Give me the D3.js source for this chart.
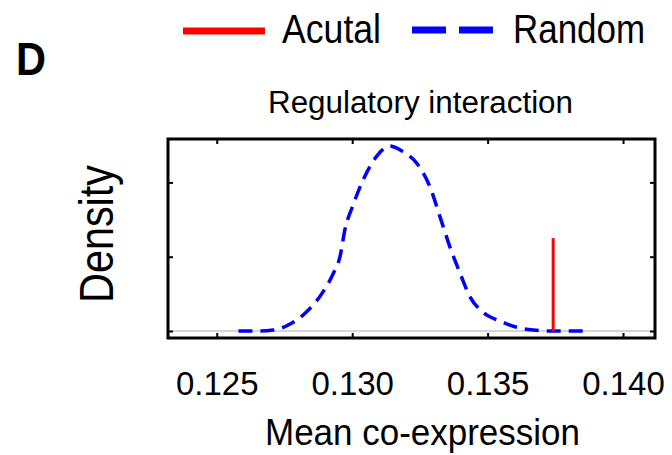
<!DOCTYPE html>
<html>
<head>
<meta charset="utf-8">
<script src="https://cdn.jsdelivr.net/npm/d3@7"></script>
<style>
  body { margin: 0; background: #fff; }
  text { font-family: "Liberation Sans", Arial, sans-serif; fill: #000; }
</style>
</head>
<body>
<svg id="chart" width="672" height="455"></svg>
<script>
// random distribution of mean co-expression
let randomX = [0.1258, 0.1266, 0.12709, 0.12771, 0.12832, 0.12893, 0.12931, 0.12955, 0.12973,
  0.13004, 0.1304, 0.1309, 0.13139, 0.13189, 0.13238, 0.13287, 0.13324, 0.13361, 0.13398,
  0.13435, 0.13484, 0.13545, 0.13607, 0.13668, 0.1373, 0.13853];
let randomY = [0, 0, 1.3, 9.4, 26, 53, 78, 100, 136, 170, 203, 235, 249, 241, 226, 194, 154,
  113, 78, 46, 25, 13.5, 5, 1.3, 0, 0];

let actualX = [0.13742];
let actualY = [125];

let xTicks = [0.125, 0.130, 0.135, 0.140];
let yTicks = [0, 100, 200];

let svg = d3.select('#chart');

let mLeft = 168, mRight = 655, mTop = 139, mBottom = 338;

let x = d3.scaleLinear().domain([0.1232, 0.14118]).range([mLeft, mRight]);
let y = d3.scaleLinear().domain([-9.4, 258.4]).range([mBottom, mTop]);

// baseline at zero
svg.append('line')
    .attr('x1', mLeft).attr('x2', mRight)
    .attr('y1', y(0)).attr('y2', y(0))
    .attr('stroke', '#c8c8c8')
    .attr('stroke-width', 1.5)

// random curve
let pts = randomX.map((d, i) => [d, randomY[i]]);
let line = d3.line()
    .x(d => x(d[0]))
    .y(d => y(d[1]))
    .curve(d3.curveMonotoneX);

svg.append('path')
    .attr('d', line(pts))
    .attr('fill', 'none')
    .attr('stroke', '#0000ff')
    .attr('stroke-width', 3.5)
    .attr('stroke-dasharray', '14,8')

// actual value
actualX.forEach((d, i) => {
    svg.append('line')
        .attr('x1', x(d)).attr('x2', x(d))
        .attr('y1', y(0)).attr('y2', y(actualY[i]))
        .attr('stroke', '#ff0000')
        .attr('stroke-width', 3)
});

// axes, ticks pointing inward
let tickStyle = g => {
    g.select('.domain').remove();
    g.selectAll('.tick line').attr('stroke', '#000').attr('stroke-width', 2);
};

svg.append('g')
    .attr('transform', `translate(0,${mBottom})`)
    .call(d3.axisBottom(x).tickValues(xTicks).tickSize(-5).tickSizeOuter(0)
        .tickPadding(33.6).tickFormat(d3.format('.3f')))
    .call(tickStyle)
    .call(g => g.selectAll('.tick text')
        .attr('font-size', 33)
        .attr('font-family', '"Liberation Sans", Arial, sans-serif')
        .attr('fill', '#000'))

svg.append('g')
    .attr('transform', `translate(0,${mTop})`)
    .call(d3.axisTop(x).tickValues(xTicks).tickSize(-5).tickSizeOuter(0).tickFormat(''))
    .call(tickStyle)

svg.append('g')
    .attr('transform', `translate(${mLeft},0)`)
    .call(d3.axisLeft(y).tickValues(yTicks).tickSize(-5).tickSizeOuter(0).tickFormat(''))
    .call(tickStyle)

svg.append('g')
    .attr('transform', `translate(${mRight},0)`)
    .call(d3.axisRight(y).tickValues(yTicks).tickSize(-5).tickSizeOuter(0).tickFormat(''))
    .call(tickStyle)

// frame
svg.append('rect')
    .attr('x', mLeft).attr('y', mTop)
    .attr('width', mRight - mLeft).attr('height', mBottom - mTop)
    .attr('fill', 'none')
    .attr('stroke', '#000')
    .attr('stroke-width', 3)

// texts
svg.append('text')
    .attr('x', 16).attr('y', 75)
    .attr('font-size', 46)
    .attr('font-weight', 'bold')
    .attr('textLength', 30)
    .attr('lengthAdjust', 'spacingAndGlyphs')
    .text('D')

svg.append('text')
    .attr('x', 268).attr('y', 113)
    .attr('font-size', 31)
    .attr('textLength', 305)
    .attr('lengthAdjust', 'spacingAndGlyphs')
    .text('Regulatory interaction')

svg.append('text')
    .attr('x', 422.5).attr('y', 445)
    .attr('text-anchor', 'middle')
    .attr('font-size', 37)
    .attr('textLength', 315)
    .attr('lengthAdjust', 'spacingAndGlyphs')
    .text('Mean co-expression')

svg.append('text')
    .attr('transform', 'translate(113,234) rotate(-90)')
    .attr('text-anchor', 'middle')
    .attr('font-size', 48)
    .attr('textLength', 138)
    .attr('lengthAdjust', 'spacingAndGlyphs')
    .text('Density')

// legend
let legend = svg.append('g');

legend.append('line')
    .attr('x1', 183).attr('x2', 265)
    .attr('y1', 31).attr('y2', 31)
    .attr('stroke', '#ff0000')
    .attr('stroke-width', 7)

legend.append('text')
    .attr('x', 282).attr('y', 43)
    .attr('font-size', 40)
    .attr('textLength', 99)
    .attr('lengthAdjust', 'spacingAndGlyphs')
    .text('Acutal')

legend.append('line')
    .attr('x1', 412).attr('x2', 493)
    .attr('y1', 30).attr('y2', 30)
    .attr('stroke', '#0000ff')
    .attr('stroke-width', 7)
    .attr('stroke-dasharray', '34,13')

legend.append('text')
    .attr('x', 513).attr('y', 43)
    .attr('font-size', 40)
    .attr('textLength', 132)
    .attr('lengthAdjust', 'spacingAndGlyphs')
    .text('Random')
</script>
</body>
</html>
